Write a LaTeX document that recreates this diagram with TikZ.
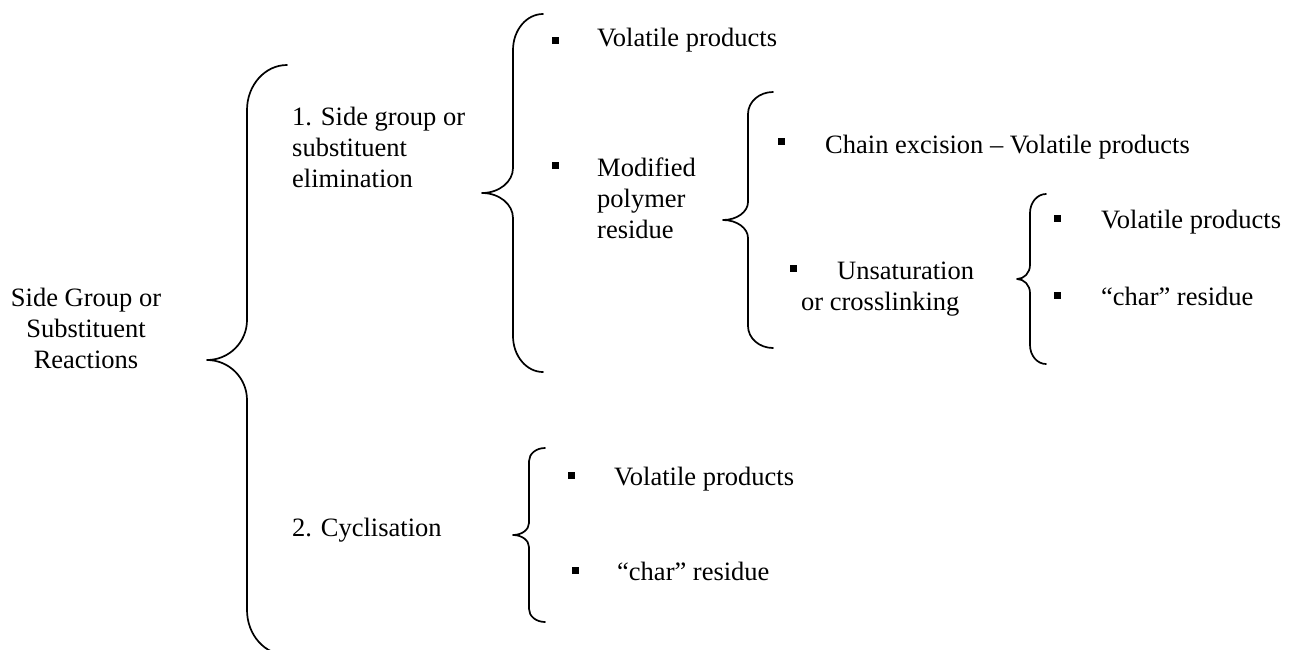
\documentclass[tikz,border=0pt]{standalone}
\usepackage{fontspec}
\setmainfont{Liberation Serif}

% curly brace opening to the right:
% #1 tip x, #2 stem x, #3 end x, #4 top y, #5 tip y, #6 bottom y, #7 end-curve height, #8 tip-curve height
\newcommand\curlybrace[8]{%
  \draw[bracestyle]
    (#3,#4) .. controls ({#3-0.552*(#3-#2)},#4) and (#2,{#4+0.448*#7}) .. (#2,{#4+#7})
    -- (#2,{#5-#8})
    .. controls (#2,{#5-0.448*#8}) and ({#1+0.552*(#2-#1)},#5) .. (#1,#5)
    .. controls ({#1+0.552*(#2-#1)},#5) and (#2,{#5+0.448*#8}) .. (#2,{#5+#8})
    -- (#2,{#6-#7})
    .. controls (#2,{#6-0.448*#7}) and ({#3-0.552*(#3-#2)},#6) .. (#3,#6);
}

\tikzset{
  bracestyle/.style={line width=1.7pt, line cap=round, line join=round},
  txt/.style={font=\fontsize{26.5}{31}\selectfont, inner sep=0pt, anchor=base west, align=left},
  blt/.style={rectangle, fill=black, inner sep=0pt, minimum size=7pt}
}

\begin{document}
\begin{tikzpicture}[x=1pt, y=-1pt]
\useasboundingbox (0,0) rectangle (1296,649);

% root label (multi-line nodes are placed by the baseline of their last line)
\node[txt, anchor=base, align=center] (root) at (86,368) {Side Group or\\Substituent\\Reactions};

% first level
\node[txt] (elim) at (292,187) {1. Side group or\\substituent\\elimination};
\node[txt] (cycl) at (292,536) {2. Cyclisation};

% elimination branch
\node[blt] (b1) at (555,40) {};
\node[txt] (vol1) at (597,46) {Volatile products};
\node[blt] (b2) at (555,165) {};
\node[txt] (modres) at (597,238) {Modified\\polymer\\residue};

% modified residue branch
\node[blt] (b3) at (781,141) {};
\node[txt] (chain) at (825,153) {Chain excision – Volatile products};
\node[blt] (b4) at (793,268) {};
\node[txt] (unsat) at (801,310) {\hspace*{36pt}Unsaturation\\or crosslinking};

% unsaturation branch
\node[blt] (b5) at (1057,218) {};
\node[txt] (vol2) at (1101,228) {Volatile products};
\node[blt] (b6) at (1057,295) {};
\node[txt] (char1) at (1101,305) {“char” residue};

% cyclisation branch
\node[blt] (b7) at (571,475) {};
\node[txt] (vol3) at (614,485) {Volatile products};
\node[blt] (b8) at (575,570) {};
\node[txt] (char2) at (617,580) {“char” residue};

% braces
\curlybrace{207}{247}{287}{65}{360}{655}{45}{40}
\curlybrace{482}{513}{543}{14}{193}{372}{36}{25}
\curlybrace{723}{748}{773}{92}{220}{348}{22}{18}
\curlybrace{1017}{1030}{1046}{194}{279}{364}{19}{14}
\curlybrace{513}{529}{545}{448}{535}{622}{13}{12}
\end{tikzpicture}
\end{document}
